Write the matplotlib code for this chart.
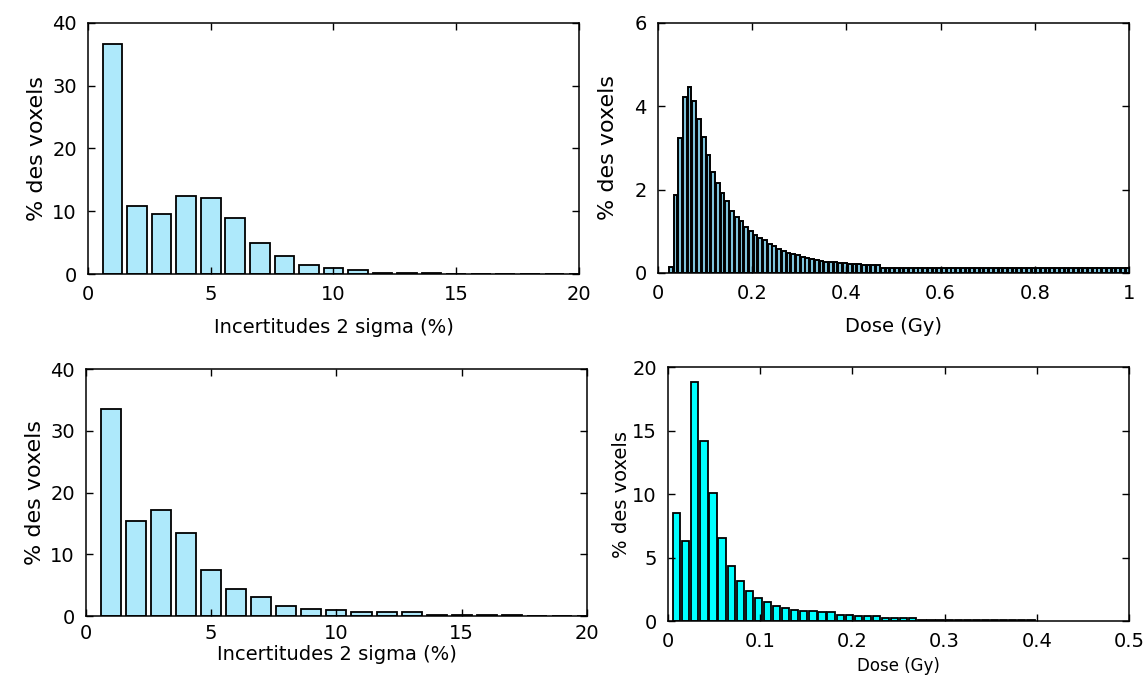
import matplotlib
matplotlib.use("Agg")
import matplotlib.pyplot as plt
from matplotlib.ticker import FuncFormatter
import numpy as np

# Histogrammes des incertitudes (centres 1..20 %)
incert_centres = list(range(1, 21))
incert_haut = [36.7, 10.8, 9.6, 12.4, 12.1, 9.0, 4.9, 2.8, 1.5, 0.95,
               0.6, 0.15, 0.12, 0.1, 0.08, 0.07, 0.06, 0.05, 0.05, 0.04]
incert_bas = [33.6, 15.4, 17.2, 13.5, 7.4, 4.3, 3.0, 1.7, 1.2, 0.9,
              0.6, 0.6, 0.6, 0.15, 0.12, 0.1, 0.1, 0.08, 0.08, 0.06]

# Histogramme de dose (haut), pas de 0.01 Gy
dose_haut_debut = 0.027
dose_haut_pas = 0.01
dose_haut = [0.15, 1.87, 3.25, 4.23, 4.47, 4.12, 3.7, 3.27, 2.83, 2.43,
             2.15, 1.92, 1.72, 1.49, 1.35, 1.24, 1.11, 1.0, 0.91, 0.85,
             0.78, 0.70, 0.64, 0.58, 0.53, 0.49, 0.45, 0.42, 0.39, 0.36,
             0.33, 0.30, 0.29, 0.27, 0.26, 0.26, 0.25, 0.24, 0.22, 0.22,
             0.21, 0.20, 0.19, 0.19, 0.20] + [0.13] * 53

# Histogramme de dose (bas), pas de ~0.00985 Gy
dose_bas_debut = 0.0094
dose_bas_pas = 0.00985
dose_bas = [8.5, 6.3, 18.8, 14.2, 10.1, 6.5, 4.35, 3.17, 2.38, 1.83,
            1.52, 1.15, 1.02, 0.87, 0.77, 0.77, 0.69, 0.69, 0.51, 0.51,
            0.38, 0.38, 0.38, 0.22, 0.22, 0.22, 0.22, 0.1, 0.1, 0.1,
            0.1, 0.1, 0.1, 0.1, 0.1, 0.1, 0.1, 0.1, 0.1, 0.1]

plt.rcParams['font.family'] = ['DejaVu Sans']
fmt = FuncFormatter(lambda v, p: '%g' % v)


def style_axes(ax, fs, xpad=8):
    ax.tick_params(direction='in', top=True, right=True, length=5, width=1,
                   labelsize=fs, pad=8)
    ax.tick_params(axis='x', pad=xpad)
    for s in ax.spines.values():
        s.set_linewidth(1.1)
    ax.xaxis.set_major_formatter(fmt)
    ax.yaxis.set_major_formatter(fmt)


fig = plt.figure(figsize=(11.46, 6.84), dpi=100)

# Haut gauche
ax1 = fig.add_axes([0.0768, 0.5994, 0.4284, 0.367])
ax1.bar(incert_centres, incert_haut, width=0.8, color='#aee9fb',
        edgecolor='black', linewidth=1.3)
ax1.set_xlim(0, 20)
ax1.set_ylim(0, 40)
ax1.set_xticks([0, 5, 10, 15, 20])
ax1.set_yticks([0, 10, 20, 30, 40])
style_axes(ax1, 14)
ax1.set_xlabel('Incertitudes 2 sigma (%)', fontsize=14, labelpad=10)
ax1.set_ylabel('% des voxels', fontsize=16, labelpad=4)

# Haut droite
ax2 = fig.add_axes([0.5742, 0.6009, 0.411, 0.3655])
x2 = dose_haut_debut + dose_haut_pas * np.arange(len(dose_haut))
ax2.bar(x2, dose_haut, width=0.8 * dose_haut_pas, color='#7fc4dc',
        edgecolor='black', linewidth=1.4)
ax2.set_xlim(0, 1)
ax2.set_ylim(0, 6)
ax2.set_xticks([0, 0.2, 0.4, 0.6, 0.8, 1])
ax2.set_yticks([0, 2, 4, 6])
style_axes(ax2, 14)
ax2.set_xlabel('Dose (Gy)', fontsize=14, labelpad=10)
ax2.set_ylabel('% des voxels', fontsize=16, labelpad=12)

# Bas gauche
ax3 = fig.add_axes([0.0750, 0.0994, 0.4372, 0.3611])
ax3.bar(incert_centres, incert_bas, width=0.8, color='#aee9fb',
        edgecolor='black', linewidth=1.3)
ax3.set_xlim(0, 20)
ax3.set_ylim(0, 40)
ax3.set_xticks([0, 5, 10, 15, 20])
ax3.set_yticks([0, 10, 20, 30, 40])
style_axes(ax3, 14, xpad=6)
ax3.set_xlabel('Incertitudes 2 sigma (%)', fontsize=14, labelpad=1)
ax3.set_ylabel('% des voxels', fontsize=16, labelpad=4)

# Bas droite
ax4 = fig.add_axes([0.5829, 0.0921, 0.4023, 0.3713])
x4 = dose_bas_debut + dose_bas_pas * np.arange(len(dose_bas))
ax4.bar(x4, dose_bas, width=0.8 * dose_bas_pas, color='#00ffff',
        edgecolor='black', linewidth=1.3)
ax4.set_xlim(0, 0.5)
ax4.set_ylim(0, 20)
ax4.set_xticks([0, 0.1, 0.2, 0.3, 0.4, 0.5])
ax4.set_yticks([0, 5, 10, 15, 20])
style_axes(ax4, 14)
ax4.set_xlabel('Dose (Gy)', fontsize=12, labelpad=4)
ax4.set_ylabel('% des voxels', fontsize=14, labelpad=1)

fig.savefig('out.png', dpi=100)
